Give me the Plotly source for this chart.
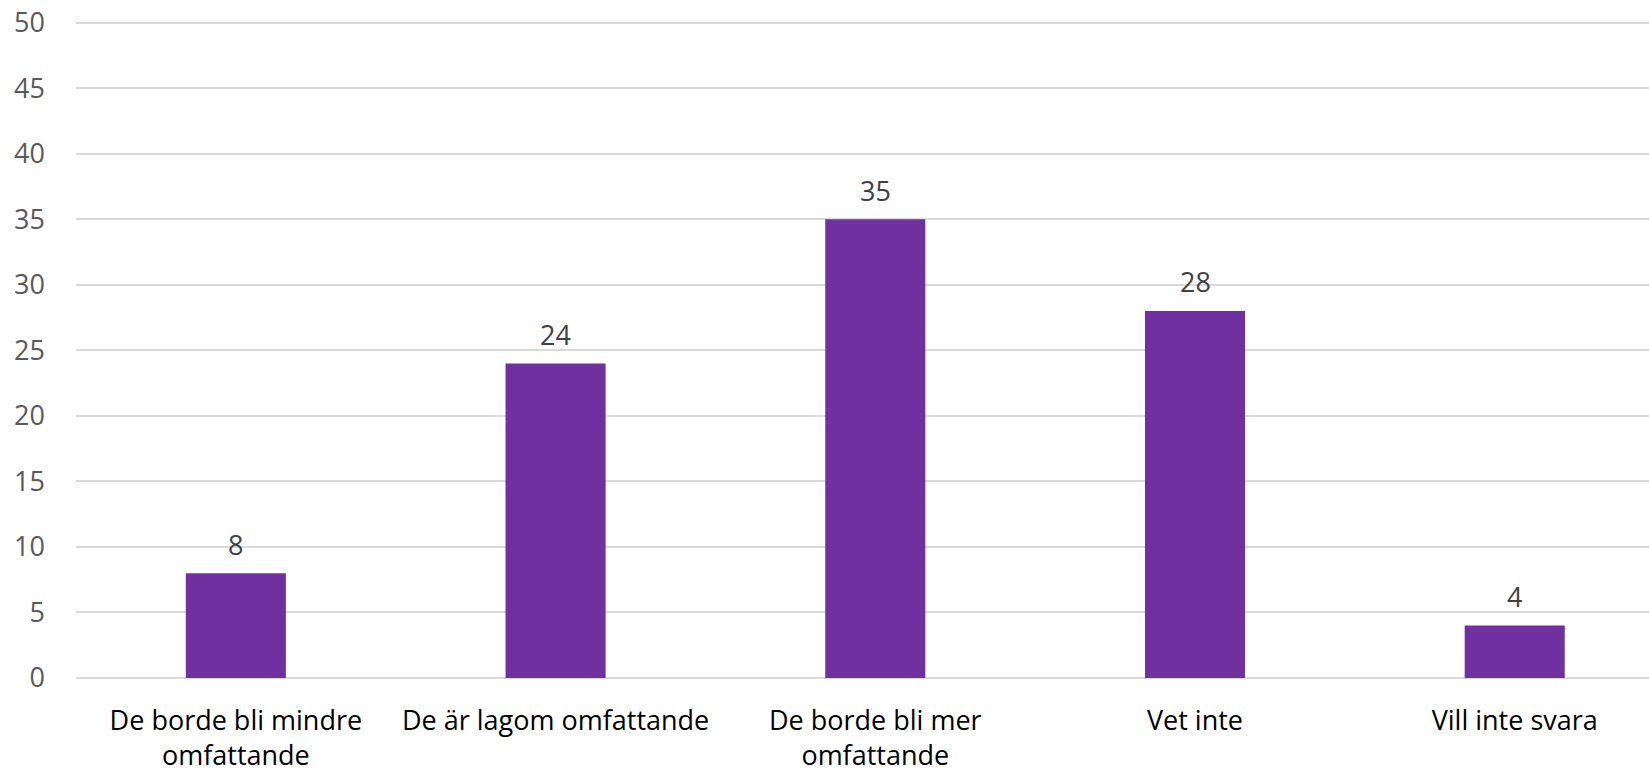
import plotly.graph_objects as go

categories = ["De borde bli mindre<br>omfattande", "De är lagom omfattande",
              "De borde bli mer<br>omfattande", "Vet inte", "Vill inte svara"]
values = [8, 24, 35, 28, 4]
y_ticks = [0, 5, 10, 15, 20, 25, 30, 35, 40, 45, 50]

xs = list(range(len(categories)))
fig = go.Figure(go.Bar(
    x=xs, y=values,
    marker=dict(color="#7030A0", line=dict(width=0)),
    hoverinfo="x+y",
))

for x, v in zip(xs, values):
    fig.add_annotation(x=x, y=v, text=str(v), showarrow=False,
                       yanchor="middle", yshift=29,
                       font=dict(family="Open Sans", size=27, color="#404040"))

fig.update_layout(
    width=1649, height=771,
    margin=dict(l=76, r=0, t=20, b=93),
    paper_bgcolor="white", plot_bgcolor="white",
    bargap=0.687,
    showlegend=False,
    font=dict(family="Open Sans"),
)
fig.update_xaxes(
    tickmode="array", tickvals=xs, ticktext=categories,
    range=[-0.5, 4.42], showgrid=False, zeroline=False, showline=False,
    tickfont=dict(family="Open Sans", size=27, color="#000000"),
    ticks="", ticklabelstandoff=24, automargin=False,
)
fig.update_yaxes(
    range=[0, 50.2], tickvals=y_ticks, showgrid=True, gridcolor="#D9D9D9", gridwidth=1.5,
    zeroline=True, zerolinecolor="#D9D9D9", zerolinewidth=1.5, showline=False,
    tickfont=dict(family="Open Sans", size=27, color="#595959"),
    ticks="", ticklabelstandoff=30, automargin=False,
)

fig.write_html("out.html", config={"displayModeBar": False},
               post_script="document.body.style.margin='0';document.body.style.overflow='hidden';")
